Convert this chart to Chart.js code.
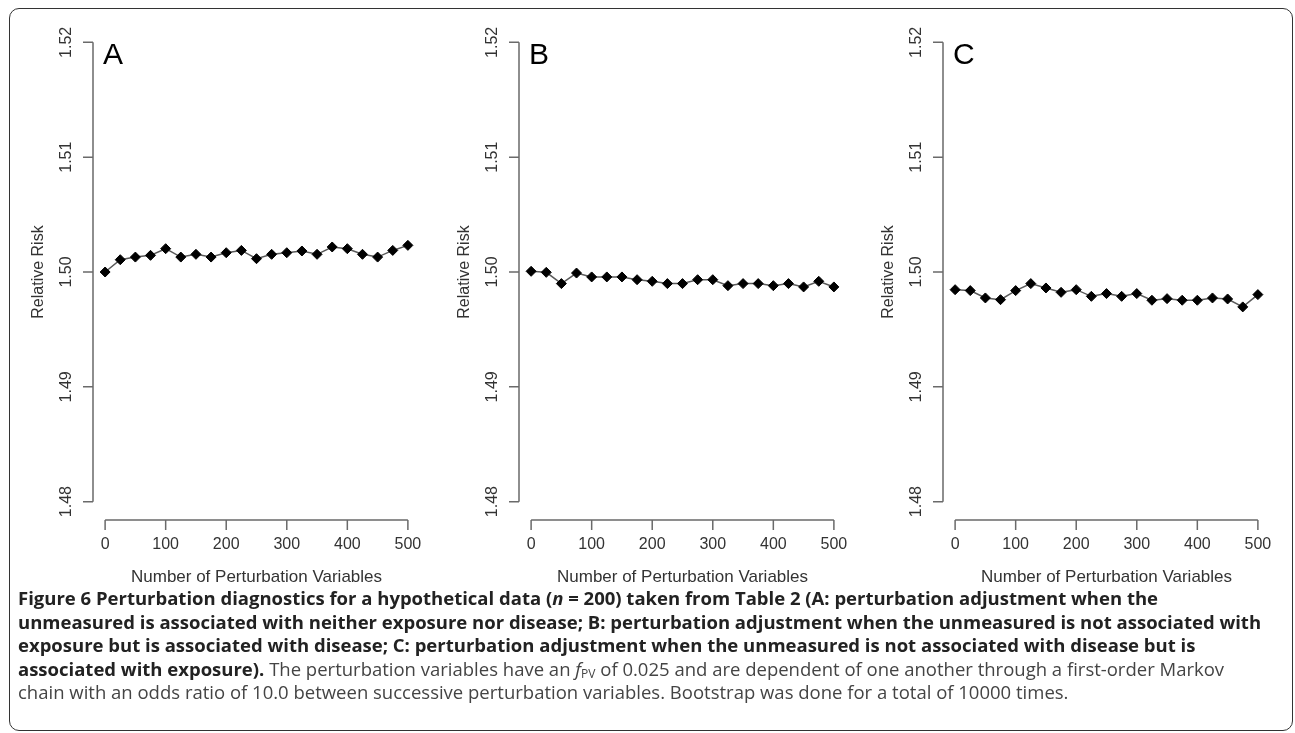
<!DOCTYPE html>
<html>
<head>
<meta charset="utf-8">
<script src="https://cdn.jsdelivr.net/npm/chart.js@4.4.1/dist/chart.umd.min.js"></script>
<style>
  html, body { margin: 0; padding: 0; background: #fff; }
  body { width: 1295px; height: 733px; position: relative; overflow: hidden; }
  .frame {
    position: absolute; left: 9px; top: 8px; width: 1284px; height: 723px;
    border: 1.5px solid #333; border-radius: 10px; box-sizing: border-box;
  }
  .panel { position: absolute; top: 0; width: 426px; height: 600px; }
  .caption {
    position: absolute; left: 18px; top: 586px;
    font-family: 'Open Sans', sans-serif; font-size: 18.5px; line-height: 23.6px;
    color: #444; white-space: nowrap;
  }
  .caption b { color: #222; }
  .caption sub { font-size: 12px; vertical-align: -2px; line-height: 0; }
</style>
</head>
<body>
<div class="frame"></div>
<canvas id="panelA" class="panel" style="left:0px" width="426" height="600"></canvas>
<canvas id="panelB" class="panel" style="left:426px" width="426" height="600"></canvas>
<canvas id="panelC" class="panel" style="left:850px" width="426" height="600"></canvas>
<div class="caption">
<b>Figure 6 Perturbation diagnostics for a hypothetical data (<i>n</i> = 200) taken from Table 2 (A: perturbation adjustment when the</b><br>
<b>unmeasured is associated with neither exposure nor disease; B: perturbation adjustment when the unmeasured is not associated with</b><br>
<b>exposure but is associated with disease; C: perturbation adjustment when the unmeasured is not associated with disease but is</b><br>
<b>associated with exposure).</b> The perturbation variables have an <i>f</i><sub>PV</sub> of 0.025 and are dependent of one another through a first-order Markov<br>
chain with an odds ratio of 10.0 between successive perturbation variables. Bootstrap was done for a total of 10000 times.
</div>
<script>
// number of perturbation variables (x) and the relative risk
const perturbVars = [0, 25, 50, 75, 100, 125, 150, 175, 200, 225, 250,
                     275, 300, 325, 350, 375, 400, 425, 450, 475, 500];
const riskA = [1.5000, 1.50107, 1.50130, 1.50145, 1.50203, 1.50130, 1.50154, 1.50130, 1.50168, 1.50188, 1.50116,
               1.50154, 1.50168, 1.50183, 1.50154, 1.50218, 1.50203, 1.50154, 1.50130, 1.50188, 1.50232];
const riskB = [1.50006, 1.49997, 1.49899, 1.49991, 1.49957, 1.49957, 1.49957, 1.49933, 1.49919, 1.49899, 1.49899,
               1.49933, 1.49933, 1.49881, 1.49899, 1.49899, 1.49881, 1.49899, 1.49870, 1.49919, 1.49870];
const riskC = [1.49846, 1.49838, 1.49774, 1.49759, 1.49838, 1.49899, 1.49861, 1.49823, 1.49846, 1.49788, 1.49812,
               1.49788, 1.49812, 1.49754, 1.49768, 1.49754, 1.49754, 1.49774, 1.49765, 1.49696, 1.49803];
const xTicks = [0, 100, 200, 300, 400, 500];
const yTicks = [1.48, 1.49, 1.50, 1.51, 1.52];
const yTickLabels = ['1.48', '1.49', '1.50', '1.51', '1.52'];
const xTitle = 'Number of Perturbation Variables';
const yTitle = 'Relative Risk';

const axisFont = '16px "Liberation Sans", Arial, sans-serif';

// R-style axes: lines only span the tick range, labels on y rotated
const rAxes = {
  id: 'rAxes',
  afterDraw(chart, args, opts) {
    const { ctx, chartArea, scales: { x, y } } = chart;
    const left = chartArea.left, bottom = chartArea.bottom;
    ctx.save();
    ctx.strokeStyle = '#6a6a6a';
    ctx.lineWidth = 1.5;
    ctx.beginPath();
    ctx.moveTo(left, y.getPixelForValue(yTicks[0]));
    ctx.lineTo(left, y.getPixelForValue(yTicks[yTicks.length - 1]));
    yTicks.forEach(v => {
      const p = y.getPixelForValue(v);
      ctx.moveTo(left, p); ctx.lineTo(left - 10, p);
    });
    ctx.moveTo(x.getPixelForValue(xTicks[0]), bottom);
    ctx.lineTo(x.getPixelForValue(xTicks[xTicks.length - 1]), bottom);
    xTicks.forEach(v => {
      const p = x.getPixelForValue(v);
      ctx.moveTo(p, bottom); ctx.lineTo(p, bottom + 10);
    });
    ctx.stroke();

    ctx.fillStyle = '#333';
    ctx.font = axisFont;
    ctx.textAlign = 'center';
    ctx.textBaseline = 'middle';
    xTicks.forEach(v => ctx.fillText(String(v), x.getPixelForValue(v), bottom + 25));
    ctx.font = '17px "Liberation Sans", Arial, sans-serif';
    ctx.fillText(xTitle, x.getPixelForValue(250), bottom + 57);

    yTicks.forEach((v, i) => {
      ctx.save();
      ctx.translate(left - 26, y.getPixelForValue(v));
      ctx.rotate(-Math.PI / 2);
      ctx.font = axisFont;
      ctx.fillText(yTickLabels[i], 0, 0);
      ctx.restore();
    });
    ctx.save();
    ctx.translate(left - 54, y.getPixelForValue(1.50));
    ctx.rotate(-Math.PI / 2);
    ctx.font = '16px "Liberation Sans", Arial, sans-serif';
    ctx.fillText(yTitle, 0, 0);
    ctx.restore();

    ctx.fillStyle = '#000';
    ctx.font = '30px "Liberation Sans", Arial, sans-serif';
    ctx.textAlign = 'left';
    ctx.textBaseline = 'alphabetic';
    ctx.fillText(opts.letter, left + 10, y.getPixelForValue(1.52) + 22);
    ctx.restore();
  }
};

function renderPanel(el, values, letter) {
  return new Chart(el.getContext('2d'), {
    type: 'line',
    data: {
      datasets: [{
        data: perturbVars.map((v, i) => ({ x: v, y: values[i] })),
        borderColor: '#5a5a5a',
        borderWidth: 1.5,
        pointStyle: 'rectRot',
        pointRadius: 5,
        pointBackgroundColor: '#000',
        pointBorderColor: '#000',
        pointBorderWidth: 1,
        tension: 0
      }]
    },
    options: {
      responsive: false,
      animation: false,
      layout: { padding: { left: 93, right: 2, top: 24, bottom: 80 } },
      scales: {
        x: { type: 'linear', min: -20, max: 520, display: false },
        y: { min: 1.4784, max: 1.5216, display: false }
      },
      plugins: {
        legend: { display: false },
        tooltip: { enabled: false },
        rAxes: { letter }
      }
    },
    plugins: [rAxes]
  });
}

renderPanel(document.getElementById('panelA'), riskA, 'A');
renderPanel(document.getElementById('panelB'), riskB, 'B');
renderPanel(document.getElementById('panelC'), riskC, 'C');
</script>
</body>
</html>
